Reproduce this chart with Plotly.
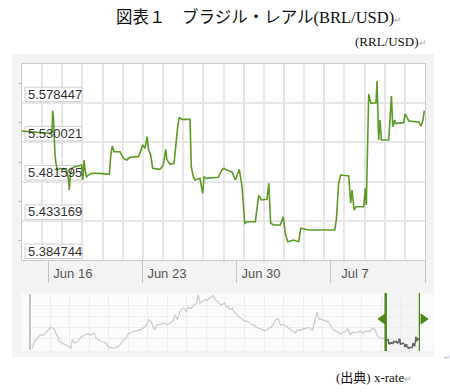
import plotly.graph_objects as go

# ---------------- data ----------------
main_time = [
    "2025-06-14 00:00", "2025-06-14 14:24", "2025-06-15 08:10", "2025-06-16 01:55", "2025-06-16 05:31",
    "2025-06-16 06:43", "2025-06-16 07:55", "2025-06-16 09:07", "2025-06-16 11:02", "2025-06-16 12:43",
    "2025-06-16 15:07", "2025-06-16 19:55",
    "2025-06-17 07:41", "2025-06-17 11:17", "2025-06-17 12:29", "2025-06-17 14:24", "2025-06-17 16:48", "2025-06-17 22:48",
    "2025-06-18 04:34", "2025-06-18 10:34", "2025-06-18 12:29", "2025-06-18 14:53", "2025-06-18 16:34", "2025-06-18 19:26",
    "2025-06-18 22:34",
    "2025-06-19 04:34", "2025-06-19 19:26", "2025-06-20 12:00", "2025-06-20 14:24", "2025-06-20 17:17", "2025-06-20 20:24",
    "2025-06-21 07:12", "2025-06-21 12:58", "2025-06-21 18:58", "2025-06-22 00:58", "2025-06-22 15:50", "2025-06-22 18:43",
    "2025-06-22 23:31",
    "2025-06-23 03:50", "2025-06-23 07:26", "2025-06-23 10:19", "2025-06-23 13:55", "2025-06-23 17:31",
    "2025-06-24 06:29", "2025-06-24 12:29", "2025-06-24 16:48", "2025-06-24 18:58",
    "2025-06-25 00:29", "2025-06-25 07:41", "2025-06-25 11:02", "2025-06-25 14:10", "2025-06-25 17:02", "2025-06-25 21:22",
    "2025-06-26 12:14", "2025-06-26 14:24", "2025-06-26 18:00", "2025-06-26 21:07",
    "2025-06-27 06:00", "2025-06-27 10:48", "2025-06-27 13:12", "2025-06-27 16:48",
    "2025-06-28 14:53", "2025-06-28 20:53", "2025-06-29 00:58", "2025-06-29 03:22", "2025-06-29 15:07", "2025-06-29 21:07",
    "2025-06-30 04:19", "2025-06-30 09:07", "2025-06-30 13:55", "2025-06-30 18:00",
    "2025-07-01 08:53", "2025-07-01 11:17", "2025-07-01 14:53", "2025-07-01 19:41",
    "2025-07-02 05:46", "2025-07-02 08:53", "2025-07-02 12:14", "2025-07-02 17:46",
    "2025-07-03 05:31", "2025-07-03 10:48", "2025-07-03 14:24", "2025-07-03 18:43",
    "2025-07-04 05:17", "2025-07-04 14:24", "2025-07-04 18:00", "2025-07-05 08:10", "2025-07-06 07:55",
    "2025-07-07 06:43", "2025-07-07 09:36", "2025-07-07 13:41", "2025-07-07 17:17",
    "2025-07-08 07:41", "2025-07-08 11:17", "2025-07-08 13:41", "2025-07-08 17:17", "2025-07-08 20:38",
    "2025-07-09 10:34", "2025-07-09 13:26", "2025-07-09 15:07", "2025-07-09 17:46", "2025-07-09 19:26", "2025-07-09 23:31",
    "2025-07-10 08:24", "2025-07-10 10:19", "2025-07-10 12:00", "2025-07-10 13:12", "2025-07-10 15:36", "2025-07-10 18:00",
    "2025-07-11 07:12", "2025-07-11 10:05", "2025-07-11 12:00", "2025-07-11 14:24", "2025-07-11 17:46", "2025-07-11 18:58",
    "2025-07-12 09:50", "2025-07-12 12:43", "2025-07-12 18:58",
    "2025-07-13 12:43", "2025-07-13 16:48", "2025-07-13 20:24", "2025-07-13 22:48",
]
main_rate = [
    5.5441, 5.5432, 5.5420, 5.5412, 5.5420, 5.5692, 5.5639, 5.5430, 5.5144, 5.5042, 5.4959, 5.4980,
    5.4959, 5.4836, 5.4712, 5.4897, 5.4980, 5.4999,
    5.5009, 5.5021, 5.4836, 5.5083, 5.4959, 5.4877, 5.4897,
    5.4918, 5.4918, 5.4906, 5.5124, 5.5256, 5.5185,
    5.5185, 5.5103, 5.5083, 5.5116, 5.5124, 5.5165, 5.5268,
    5.5227, 5.5371, 5.5206, 5.5144, 5.4980,
    5.4967, 5.5021, 5.5215, 5.5083,
    5.5033, 5.5042, 5.5330, 5.5494, 5.5610, 5.5585,
    5.5585, 5.4999, 5.4877, 5.4836,
    5.4856, 5.4671, 5.4877, 5.4856,
    5.4869, 5.4959, 5.4980, 5.4967, 5.4935, 5.4836,
    5.4967, 5.4753, 5.4301, 5.4320,
    5.4320, 5.4444, 5.4650, 5.4589,
    5.4597, 5.4795, 5.4301, 5.4280,
    5.4280, 5.4382, 5.4176, 5.4074,
    5.4094, 5.4074, 5.4239, 5.4218, 5.4218,
    5.4218, 5.4342, 5.4795, 5.4897,
    5.4885, 5.4548, 5.4712, 5.4465, 5.4506,
    5.4506, 5.4733, 5.4526, 5.5289, 5.5898, 5.5783,
    5.5790, 5.6062, 5.5577, 5.5330, 5.5577, 5.5330,
    5.5330, 5.5700, 5.5873, 5.5494, 5.5577, 5.5536,
    5.5544, 5.5651, 5.5565,
    5.5553, 5.5500, 5.5577, 5.5692,
]

nav_time = [
    "2024-08-09", "2024-08-11", "2024-08-14", "2024-08-16", "2024-08-19", "2024-08-21", "2024-08-23", "2024-08-25",
    "2024-08-28", "2024-08-29", "2024-08-30",
    "2024-09-02", "2024-09-04", "2024-09-07", "2024-09-10", "2024-09-12", "2024-09-13", "2024-09-15", "2024-09-18",
    "2024-09-20", "2024-09-22", "2024-09-24", "2024-09-27", "2024-09-29",
    "2024-10-02", "2024-10-04", "2024-10-06", "2024-10-09", "2024-10-11", "2024-10-13", "2024-10-14", "2024-10-16",
    "2024-10-19", "2024-10-22", "2024-10-25", "2024-10-28", "2024-10-30",
    "2024-11-01", "2024-11-04", "2024-11-07", "2024-11-10", "2024-11-12", "2024-11-15", "2024-11-17", "2024-11-19",
    "2024-11-21", "2024-11-22", "2024-11-24", "2024-11-26", "2024-11-29",
    "2024-12-02", "2024-12-05", "2024-12-08", "2024-12-10", "2024-12-12", "2024-12-14", "2024-12-16", "2024-12-19",
    "2024-12-21", "2024-12-22", "2024-12-23", "2024-12-26", "2024-12-28", "2024-12-31",
    "2025-01-01", "2025-01-03", "2025-01-05", "2025-01-07", "2025-01-09", "2025-01-11", "2025-01-13", "2025-01-14",
    "2025-01-16", "2025-01-18", "2025-01-20", "2025-01-22", "2025-01-24", "2025-01-26", "2025-01-27", "2025-01-29",
    "2025-01-31",
    "2025-02-01", "2025-02-04", "2025-02-06", "2025-02-08", "2025-02-10", "2025-02-13", "2025-02-15", "2025-02-17",
    "2025-02-19", "2025-02-21", "2025-02-24", "2025-02-26", "2025-02-28",
    "2025-03-02", "2025-03-04", "2025-03-06", "2025-03-08", "2025-03-10", "2025-03-12", "2025-03-14", "2025-03-17",
    "2025-03-19", "2025-03-21", "2025-03-24", "2025-03-27", "2025-03-29", "2025-03-31",
    "2025-04-03", "2025-04-05", "2025-04-07", "2025-04-09", "2025-04-11", "2025-04-13", "2025-04-15", "2025-04-17",
    "2025-04-18", "2025-04-20", "2025-04-23", "2025-04-25", "2025-04-27", "2025-04-29",
    "2025-05-02", "2025-05-04", "2025-05-06", "2025-05-08", "2025-05-10", "2025-05-12", "2025-05-14", "2025-05-16",
    "2025-05-18", "2025-05-20", "2025-05-23", "2025-05-25", "2025-05-27", "2025-05-30",
    "2025-06-01", "2025-06-03", "2025-06-05", "2025-06-07", "2025-06-09", "2025-06-12", "2025-06-14",
]
nav_rate = [
    5.402, 5.526, 5.582, 5.637, 5.627, 5.666, 5.705, 5.761, 5.738, 5.694, 5.637,
    5.526, 5.498, 5.469, 5.442, 5.414, 5.553, 5.498, 5.526, 5.582, 5.610, 5.637, 5.649, 5.627,
    5.666, 5.582, 5.553, 5.514, 5.514, 5.481, 5.442, 5.425, 5.414, 5.425, 5.469, 5.553, 5.582,
    5.649, 5.682, 5.694, 5.705, 5.721, 5.761, 5.805, 5.889, 5.862, 5.805, 5.721, 5.795, 5.817,
    5.829, 5.805, 5.834, 5.862, 5.973, 5.889, 6.030, 6.086, 6.057, 6.018, 6.097, 6.074, 6.131, 6.170,
    6.309, 6.170, 6.198, 6.225, 6.208, 6.254, 6.265, 6.299, 6.225, 6.198, 6.153, 6.141, 6.170, 6.097,
    6.114, 6.057, 6.086,
    6.030, 5.973, 5.929, 5.906, 5.872, 5.862, 5.834, 5.805, 5.795, 5.761, 5.738, 5.721, 5.705,
    5.716, 5.750, 5.761, 5.817, 5.889, 5.906, 5.795, 5.805, 5.778, 5.761, 5.721, 5.666, 5.721, 5.705,
    5.738, 5.738, 5.761, 5.750, 5.705, 5.862, 6.018, 5.889, 5.906, 5.889, 5.862, 5.862, 5.795, 5.721,
    5.694, 5.666, 5.649, 5.682, 5.694, 5.738, 5.637, 5.682, 5.666, 5.682, 5.694, 5.666, 5.694, 5.694,
    5.705, 5.750, 5.705, 5.610, 5.582, 5.570, 5.544,
]

y_ticks = [5.384744, 5.433169, 5.481595, 5.530021, 5.578447]
y_labels = ["5.384744", "5.433169", "5.481595", "5.530021", "5.578447"]
x_ticks = ["2025-06-16", "2025-06-23", "2025-06-30", "2025-07-07", "2025-07-14"]
x_labels = ["Jun 16", "Jun 23", "Jun 30", "Jul 7", ""]

title_text = "図表１　ブラジル・レアル(BRL/USD)"
unit_text = "(RRL/USD)"
source_text = "(出典) x-rate"

# ---------------- layout helpers ----------------
W, H = 450, 392
def px_x(p):
    return p / W
def px_y(p):
    return 1 - p / H

SERIF = "Liberation Serif, Noto Sans CJK JP, serif"
SANS = "Liberation Sans, Arial, sans-serif"
GREEN = "#5c9c26"
HANDLE = "#4a8a1a"
GRID = "#e6e6e6"
RET = "<span style='color:#a8a8a8;font-size:9px'>↵</span>"

x_start = "2025-06-14 00:00"
x_end = "2025-07-14 00:00"

fig = go.Figure()

fig.add_trace(go.Scatter(x=main_time, y=main_rate, mode="lines", xaxis="x", yaxis="y",
                         line=dict(color=GREEN, width=1.6), hoverinfo="skip", showlegend=False))
fig.add_trace(go.Scatter(x=nav_time, y=nav_rate, mode="lines", xaxis="x2", yaxis="y2",
                         line=dict(color="#cbcbcb", width=1.2), hoverinfo="skip", showlegend=False))
fig.add_trace(go.Scatter(x=main_time, y=main_rate, mode="lines", xaxis="x2", yaxis="y2",
                         line=dict(color="#666666", width=1.4), hoverinfo="skip", showlegend=False))

shapes = [
    # outer grey panel
    dict(type="rect", xref="paper", yref="paper", x0=px_x(12), x1=px_x(434), y0=px_y(357), y1=px_y(54),
         fillcolor="#f3f3f3", line=dict(width=0), layer="below"),
    # main plot background
    dict(type="rect", xref="paper", yref="paper", x0=px_x(22), x1=px_x(425), y0=px_y(260), y1=px_y(64),
         fillcolor="#ffffff", line=dict(width=0), layer="below"),
    # navigator background
    dict(type="rect", xref="paper", yref="paper", x0=px_x(21), x1=px_x(433), y0=px_y(351), y1=px_y(293),
         fillcolor="#fbfbfb", line=dict(width=0), layer="below"),
]
# boxes behind the y labels (above grid, below the line)
for v in y_ticks:
    shapes.append(dict(type="rect", xref="x", yref="y", xsizemode="pixel", ysizemode="pixel",
                       xanchor=x_start, yanchor=v, x0=3, x1=60, y0=1.5, y1=16,
                       fillcolor="rgba(255,255,255,0.95)", line=dict(color="#cfcfcf", width=1),
                       layer="between"))
# navigator selection
sel_start, sel_end = x_start, x_end
shapes += [
    dict(type="rect", xref="x2", yref="paper", x0=sel_start, x1=sel_end, y0=px_y(351), y1=px_y(293),
         fillcolor="rgba(120,120,120,0.05)", line=dict(width=0), layer="below"),
    dict(type="line", xref="x2", yref="paper", x0=sel_start, x1=sel_start, y0=px_y(351), y1=px_y(293),
         line=dict(color=HANDLE, width=2.5)),
    dict(type="line", xref="x2", yref="paper", x0=sel_end, x1=sel_end, y0=px_y(351), y1=px_y(293),
         line=dict(color=HANDLE, width=2.5)),
    dict(type="path", xref="paper", yref="paper", xsizemode="pixel", ysizemode="pixel",
         xanchor=px_x(386), yanchor=px_y(319), path="M -1,-5 L -8,0 L -1,5 Z",
         fillcolor=HANDLE, line=dict(color=HANDLE, width=1)),
    dict(type="path", xref="paper", yref="paper", xsizemode="pixel", ysizemode="pixel",
         xanchor=px_x(420), yanchor=px_y(319), path="M 1,-5 L 8,0 L 1,5 Z",
         fillcolor=HANDLE, line=dict(color=HANDLE, width=1)),
]

annotations = [
    dict(text=title_text + RET, xref="paper", yref="paper", x=px_x(114), y=px_y(17),
         xanchor="left", yanchor="middle", showarrow=False,
         font=dict(family=SERIF, size=16.5, color="#111111")),
    dict(text=unit_text + RET, xref="paper", yref="paper", x=px_x(429), y=px_y(42),
         xanchor="right", yanchor="middle", showarrow=False,
         font=dict(family=SERIF, size=13, color="#111111")),
    dict(text=source_text + RET, xref="paper", yref="paper", x=px_x(334), y=px_y(377),
         xanchor="left", yanchor="middle", showarrow=False,
         font=dict(family=SERIF, size=13, color="#111111")),
    dict(text="↵", xref="paper", yref="paper", x=px_x(442), y=px_y(357),
         xanchor="left", yanchor="middle", showarrow=False,
         font=dict(family=SANS, size=7, color="#b0b0b0")),
]
# y value labels sitting in their boxes
for v, lab in zip(y_ticks, y_labels):
    annotations.append(dict(text=lab, xref="x domain", yref="y", x=0, y=v,
                            xanchor="left", yanchor="middle", xshift=4, yshift=9, showarrow=False,
                            font=dict(family=SANS, size=13, color="#333333")))

fig.update_layout(
    width=W, height=H, autosize=False,
    margin=dict(l=0, r=0, t=0, b=0),
    paper_bgcolor="#ffffff", plot_bgcolor="rgba(0,0,0,0)",
    showlegend=False,
    shapes=shapes, annotations=annotations,
    xaxis=dict(
        domain=[px_x(22), px_x(425)], anchor="y", type="date",
        range=[x_start, x_end],
        tickmode="array", tickvals=x_ticks, ticktext=x_labels,
        ticks="outside", ticklen=22, tickcolor="#c4c4c4", tickwidth=1,
        ticklabelshift=24, ticklabelstandoff=-21,
        tickfont=dict(family=SANS, size=13, color="#555555"),
        showgrid=False, zeroline=False,
        showline=True, linecolor="#cccccc", linewidth=1, mirror=True,
        minor=dict(dtick=129600000, tick0="2025-06-14", showgrid=True, gridcolor=GRID, gridwidth=1.6, ticks=""),
        fixedrange=True,
    ),
    yaxis=dict(
        domain=[px_y(260), px_y(64)], anchor="x",
        range=[5.384744, 5.626873],
        tickmode="array", tickvals=y_ticks,
        ticks="", showticklabels=False,
        showgrid=True, gridcolor=GRID, gridwidth=1.6, zeroline=False,
        showline=True, linecolor="#cccccc", linewidth=1, mirror=True,
        minor=dict(tick0=5.408957, dtick=0.048426, ticks="outside", ticklen=3, tickcolor="#c4c4c4", showgrid=False),
        fixedrange=True,
    ),
    xaxis2=dict(
        domain=[px_x(31), px_x(420)], anchor="y2", type="date",
        range=["2024-08-08", "2025-07-14"],
        tick0="2024-08-08", dtick=1468800000,
        showticklabels=False, ticks="", showgrid=True, gridcolor="#eeeeee", gridwidth=1,
        zeroline=False, showline=False, fixedrange=True,
    ),
    yaxis2=dict(
        domain=[px_y(350), px_y(294)], anchor="x2",
        range=[5.38, 6.32], tick0=5.385, dtick=0.185,
        showticklabels=False, ticks="", showgrid=True, gridcolor="#eeeeee", gridwidth=1,
        zeroline=False, showline=True, linecolor="#c4c4c4", linewidth=1.5, fixedrange=True,
    ),
)

fig.write_html("out.html", config={"displayModeBar": False},
               post_script="document.body.style.margin='0';")
